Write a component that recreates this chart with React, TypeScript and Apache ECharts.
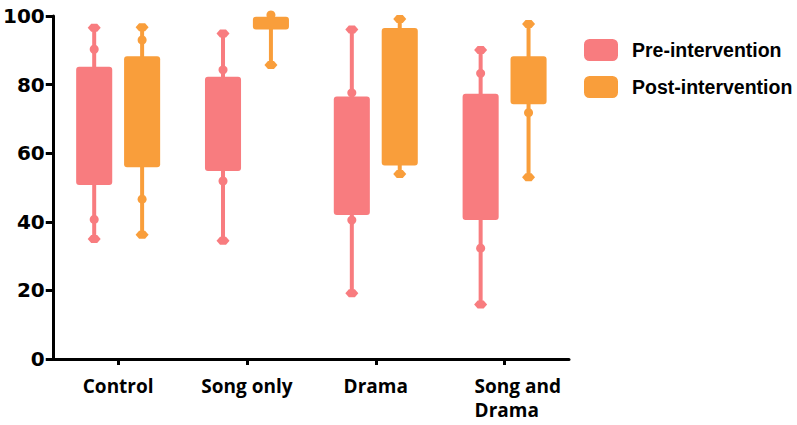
import React, { useEffect, useRef } from "react";
import * as echarts from "echarts";

const categories = ["Control", "Song only", "Drama", "Song and\nDrama"];
const seriesNames = ["Pre-intervention", "Post-intervention"];
const yTicks = [0, 20, 40, 60, 80, 100];

// Pre-intervention
const preMin = [35.0, 34.5, 19.2, 15.9];
const preLowDot: (number | null)[] = [40.7, 51.9, 40.5, 32.3];
const preQ1 = [50.7, 54.8, 42.0, 40.5];
const preQ3 = [85.2, 82.3, 76.5, 77.3];
const preHighDot: (number | null)[] = [90.3, 84.3, 77.6, 83.3];
const preMax = [96.6, 94.9, 96.1, 90.1];

// Post-intervention
const postMin = [36.2, 85.7, 53.9, 53.0];
const postLowDot: (number | null)[] = [46.6, null, null, 71.8];
const postQ1 = [55.9, 96.1, 56.4, 74.3];
const postQ3 = [88.3, 99.8, 96.5, 88.3];
const postHighDot: (number | null)[] = [93.0, 100.3, null, null];
const postMax = [96.7, 100.3, 99.1, 97.7];

const COLORS = ["#F87C7F", "#F99E3B"];

function buildData(min: number[], low: (number | null)[], q1: number[], q3: number[], high: (number | null)[], max: number[]) {
  return categories.map((_, i) => [i, min[i], low[i] ?? -1, q1[i], q3[i], high[i] ?? -1, max[i]]);
}

function makeRender(side: number, color: string) {
  return (params: any, api: any) => {
    const idx = api.value(0);
    const band = api.size([1, 0])[0];
    const cx = api.coord([idx, 0])[0] + side * band * 0.186;
    const boxW = band * 0.28;
    const y = (v: number) => api.coord([idx, v])[1];
    const vMin = api.value(1), vLow = api.value(2), vQ1 = api.value(3), vQ3 = api.value(4), vHigh = api.value(5), vMax = api.value(6);
    const children: any[] = [];
    children.push({
      type: "line",
      shape: { x1: cx, y1: y(vMin), x2: cx, y2: y(vMax) },
      style: { stroke: color, lineWidth: 4 },
    });
    children.push({
      type: "rect",
      shape: { x: cx - boxW / 2, y: y(vQ3), width: boxW, height: y(vQ1) - y(vQ3), r: 3 },
      style: { fill: color },
    });
    const diamond = (yy: number) => ({
      type: "polygon",
      shape: {
        points: [
          [cx - 6.5, yy], [cx - 3, yy - 4], [cx + 3, yy - 4],
          [cx + 6.5, yy], [cx + 3, yy + 4], [cx - 3, yy + 4],
        ],
      },
      style: { fill: color },
    });
    const dot = (yy: number) => ({ type: "circle", shape: { cx, cy: yy, r: 4.5 }, style: { fill: color } });
    children.push(diamond(y(vMin)));
    if (vHigh >= 0 && Math.abs(vHigh - vMax) < 0.01) {
      children.push(dot(y(vMax)));
    } else {
      children.push(diamond(y(vMax)));
      if (vHigh >= 0) children.push(dot(y(vHigh)));
    }
    if (vLow >= 0) children.push(dot(y(vLow)));
    return { type: "group", children };
  };
}

export default function App() {
  const ref = useRef<HTMLDivElement>(null);
  useEffect(() => {
    if (!ref.current) return;
    const chart = echarts.init(ref.current, null, { renderer: "svg" });
    const axisLine = { show: true, lineStyle: { color: "#000", width: 3 } };
    chart.setOption({
      animation: false,
      backgroundColor: "#fff",
      grid: { left: 52, right: 228, top: 16, bottom: 66, containLabel: false },
      legend: {
        orient: "vertical",
        left: 584,
        top: 39,
        padding: 0,
        itemWidth: 34,
        itemHeight: 22,
        itemGap: 15,
        icon: "roundRect",
        data: seriesNames,
        textStyle: {
          fontFamily: "Liberation Sans",
          fontWeight: "bold",
          fontSize: 19.5,
          color: "#000",
          padding: [0, 0, 0, 9],
        },
      },
      xAxis: {
        type: "category",
        data: categories,
        boundaryGap: true,
        axisLine,
        axisTick: { show: true, alignWithLabel: true, length: 6, lineStyle: { color: "#000", width: 3 } },
        axisLabel: {
          margin: 15,
          interval: 0,
          color: "#000",
          fontFamily: "Open Sans",
          fontWeight: "bold",
          fontSize: 19,
          lineHeight: 24,
          formatter: (v: string) => {
            if (v.indexOf("\n") >= 0) {
              return v.split("\n").map((s) => `{l|${s}}`).join("\n");
            }
            return v;
          },
          rich: {
            l: {
              width: 88,
              align: "left",
              padding: [0, 0, 0, 28],
              fontFamily: "Open Sans",
              fontWeight: "bold",
              fontSize: 19,
              lineHeight: 24,
              color: "#000",
            },
          },
        },
        splitLine: { show: false },
      },
      yAxis: {
        type: "value",
        min: yTicks[0],
        max: yTicks[yTicks.length - 1],
        interval: 20,
        axisLine,
        axisTick: { show: true, length: 8, lineStyle: { color: "#000", width: 3 } },
        axisLabel: {
          margin: 9,
          color: "#000",
          fontFamily: "DejaVu Sans",
          fontWeight: "bold",
          fontSize: 20,
        },
        splitLine: { show: false },
      },
      series: [
        {
          name: seriesNames[0],
          type: "custom",
          clip: false,
          itemStyle: { color: COLORS[0] },
          renderItem: makeRender(-1, COLORS[0]),
          encode: { x: 0, y: [1, 6] },
          data: buildData(preMin, preLowDot, preQ1, preQ3, preHighDot, preMax),
          z: 3,
        },
        {
          name: seriesNames[1],
          type: "custom",
          clip: false,
          itemStyle: { color: COLORS[1] },
          renderItem: makeRender(1, COLORS[1]),
          encode: { x: 0, y: [1, 6] },
          data: buildData(postMin, postLowDot, postQ1, postQ3, postHighDot, postMax),
          z: 3,
        },
      ],
    });
    return () => chart.dispose();
  }, []);
  return <div ref={ref} style={{ width: 797, height: 425, position: "absolute", left: 0, top: 0 }} />;
}
